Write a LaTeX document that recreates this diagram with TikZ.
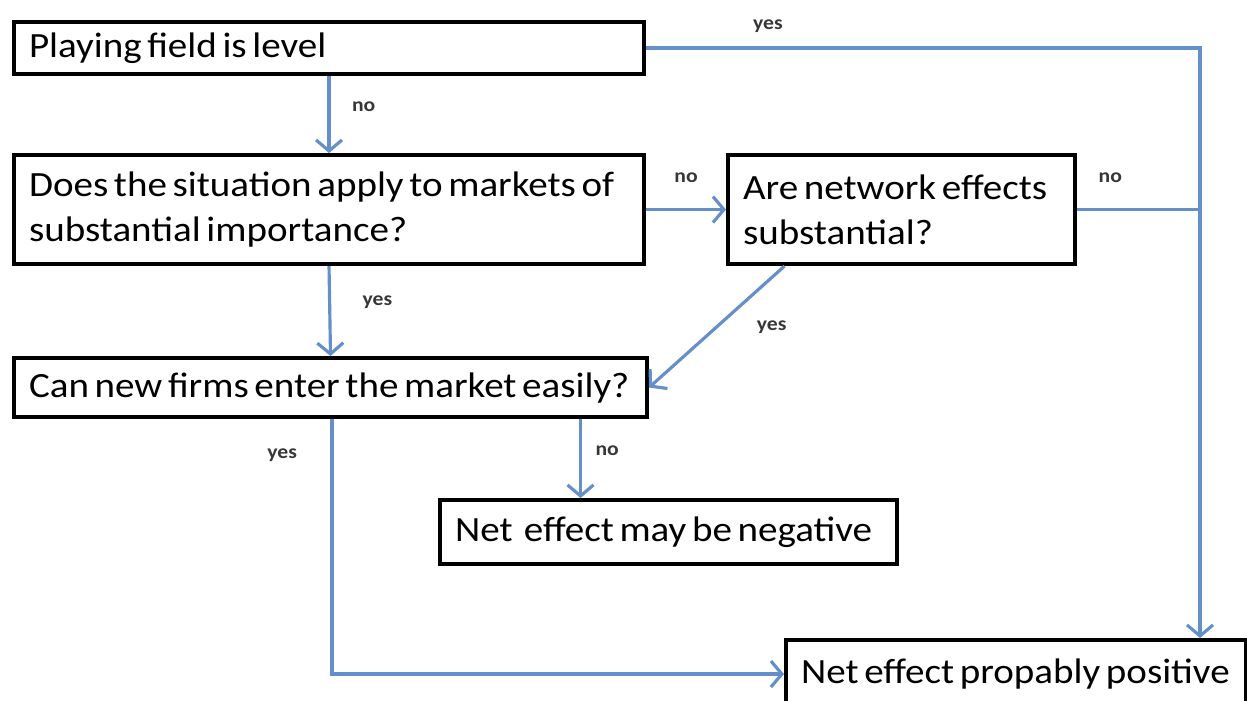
\documentclass[tikz,border=0pt]{standalone}
\usepackage{fontspec}
\setmainfont{Carlito}[FakeStretch=1.1]
\usepackage{tikz}
\usetikzlibrary{arrows.meta,positioning}
\definecolor{flowblue}{RGB}{100,143,202}
\definecolor{lblgray}{RGB}{55,55,55}

\begin{document}
\begin{tikzpicture}[
  every node/.style={font=\fontsize{10.1}{12.8}\selectfont},
  box/.style={draw, line width=1.15pt, fill=white, align=left,
              inner xsep=0.15cm, inner ysep=0pt, anchor=north west,
              execute at begin node={\spaceskip=0.16em plus 0.02em\relax}},
  lbl/.style={font=\fontsize{5.6}{6.5}\selectfont\bfseries, text=lblgray, inner sep=1pt},
  tr/.style={-{Straight Barb[length=1.1mm, width=2.6mm]}, flowblue, line width=0.9pt},
  ln/.style={flowblue, line width=0.9pt}
]
\useasboundingbox (0,0) rectangle (12.47,-7.00);
\clip (0,0) rectangle (12.47,-7.00);
\node[box, text width=6.00cm, minimum height=0.52cm] (play)  at (0.12,-0.20) {Playing field is level};
\node[box, text width=6.00cm, minimum height=1.09cm] (situ)  at (0.12,-1.53) {Does the situation apply to markets of\\substantial importance?};
\node[box, text width=3.17cm, minimum height=1.09cm] (netw)  at (7.26,-1.53) {Are network effects\\substantial?};
\node[box, text width=6.03cm, minimum height=0.59cm] (entry) at (0.12,-3.56) {Can new firms enter the market easily?};
\node[box, text width=4.27cm, minimum height=0.64cm] (neg)   at (4.38,-4.98) {Net\ \ effect may be negative};
\node[box, text width=4.30cm, minimum height=0.68cm] (pos)   at (7.84,-6.38) {Net effect propably positive};
\coordinate (rail) at (12.00,0);
\coordinate (drop) at (3.32,0);
\draw[tr] (play.south) -- node[lbl, right=0.18cm, pos=0.4]{no} (situ.north);
\draw[tr] (situ.east) -- node[lbl, above=0.22cm]{no} (netw.west);
\draw[tr] (situ.south) -- node[lbl, right=0.28cm, pos=0.4]{yes} (entry.north);
\draw[tr] ([xshift=-1.17cm]netw.south) -- node[lbl, right=0.35cm]{yes} (entry.east);
\draw[tr] ([xshift=2.5cm]entry.south) -- node[lbl, right=0.1cm, pos=0.4]{no} ([xshift=2.5cm]entry.south |- neg.north);
\draw[tr] (entry.south -| drop) |- node[lbl, pos=0.07, left=0.3cm]{yes} (pos.west);
\draw[tr] (play.east) -| node[lbl, pos=0.11, above=0.1cm]{yes} (pos.north -| rail);
\draw[ln] (netw.east) -- node[lbl, above=0.22cm, pos=0.27]{no} (netw.east -| rail);
\end{tikzpicture}
\end{document}
